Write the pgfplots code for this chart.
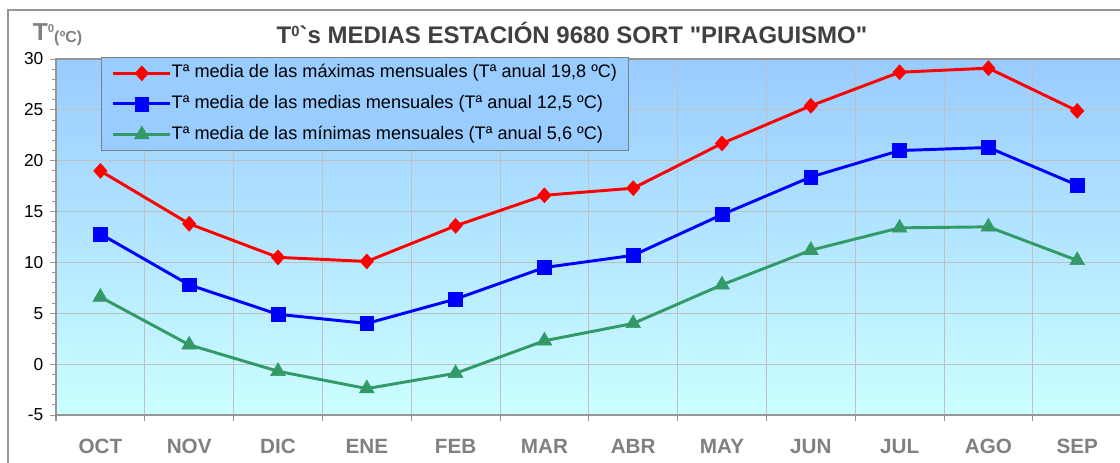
\documentclass[border=0pt]{standalone}
\usepackage{fontspec}
\setmainfont{Liberation Sans}[Ligatures=TeXOff]
\usepackage{pgfplots}
\pgfplotsset{compat=1.18}
\definecolor{bgtop}{RGB}{153,204,255}
\definecolor{bgbot}{RGB}{204,255,255}
\definecolor{gridc}{RGB}{192,192,192}
\definecolor{axc}{RGB}{150,150,150}
\definecolor{txtgray}{RGB}{128,128,128}
\definecolor{titlec}{RGB}{64,64,64}
\definecolor{sgreen}{RGB}{51,153,102}
\begin{document}
\begin{tikzpicture}
\path[use as bounding box] (0,0) rectangle (840pt,346.5pt);
\fill[white] (0,0) rectangle (840pt,346.5pt);
\draw[axc, line width=1.5pt] (6pt,-2pt) -- (6pt,339pt) -- (842pt,339pt);
\node[font=\bfseries\fontsize{18}{20}\selectfont, text=titlec] at (429pt,321.75pt) {T\raisebox{5.5pt}{\fontsize{11}{12}\selectfont 0}{\char96}s MEDIAS ESTACIÓN 9680 SORT {\char34}PIRAGUISMO{\char34}};
\node[anchor=base west, text=txtgray, font=\bfseries, inner sep=0pt] at (24.5pt,316pt) {{\fontsize{18.4}{20}\selectfont T}\raisebox{6.4pt}{\fontsize{8.5}{10}\selectfont 0}\raisebox{-1.2pt}{\fontsize{12}{14}\selectfont(ºC)}};
\begin{axis}[
  at={(42pt,35.25pt)}, anchor=south west, scale only axis,
  width=799.2pt, height=267pt,
  xmin=-0.5, xmax=11.5, ymin=-5, ymax=30,
  axis background/.style={top color=bgtop, bottom color=bgbot},
  xtick={-0.5,0.5,...,11.5}, xticklabel=\empty,
  extra x ticks={0,1,2,3,4,5,6,7,8,9,10,11},
  extra x tick labels={OCT,NOV,DIC,ENE,FEB,MAR,ABR,MAY,JUN,JUL,AGO,SEP},
  extra x tick style={grid=none, tick style={draw=none}},
  xmajorgrids=true, ymajorgrids=true,
  grid style={gridc, line width=0.75pt},
  ytick={-5,0,5,10,15,20,25,30}, minor y tick num=4,
  tick align=outside, tick pos=left,
  major tick length=4.5pt, minor tick length=3pt,
  every tick/.style={axc, line width=0.75pt},
  axis line style={axc, line width=1.5pt},
  x tick label style={font=\bfseries\fontsize{15.5}{18}\selectfont, text=txtgray, anchor=base, yshift=-24.5pt},
  y tick label style={font=\fontsize{13}{15}\selectfont, text=black, xshift=-1.5pt},
  /pgf/number format/assume math mode=true,
  legend style={at={(0.0422,1.0056)}, anchor=north west, fill=bgtop, draw=txtgray,
    font=\fontsize{13.6}{15}\selectfont, inner xsep=8pt, inner ysep=5.5pt,
    row sep=10pt, nodes={inner sep=0pt, text height=10pt, text depth=3pt},
    cells={anchor=west}},
  legend image code/.code={\draw[mark repeat=2,mark phase=2] plot coordinates {(0cm,0cm)(0.75cm,0cm)(1.5cm,0cm)};\hspace{2.5pt}},
]
\addplot[red, line width=2.2pt, mark=diamond*, mark size=5.6pt, mark options={solid, fill=red, draw=red, line width=0.4pt, xscale=1.2}]
coordinates {(0,19.0)(1,13.8)(2,10.5)(3,10.1)(4,13.6)(5,16.6)(6,17.3)(7,21.7)(8,25.4)(9,28.7)(10,29.1)(11,24.9)};
\addlegendentry{Tª media de las máximas mensuales (Tª anual 19,8 ºC)}
\addplot[blue, line width=2.2pt, mark=square*, mark size=5.2pt, mark options={solid, fill=blue, draw=blue, line width=0.4pt}]
coordinates {(0,12.8)(1,7.8)(2,4.9)(3,4.0)(4,6.4)(5,9.5)(6,10.7)(7,14.7)(8,18.4)(9,21.0)(10,21.3)(11,17.6)};
\addlegendentry{Tª media de las medias mensuales (Tª anual 12,5 ºC)}
\addplot[sgreen, line width=2.2pt, mark=triangle*, mark size=6.4pt, mark options={solid, fill=sgreen, draw=sgreen, line width=0.4pt}]
coordinates {(0,6.6)(1,1.9)(2,-0.7)(3,-2.4)(4,-0.9)(5,2.3)(6,4.0)(7,7.8)(8,11.2)(9,13.4)(10,13.5)(11,10.2)};
\addlegendentry{Tª media de las mínimas mensuales (Tª anual 5,6 ºC)}
\end{axis}
\end{tikzpicture}
\end{document}
